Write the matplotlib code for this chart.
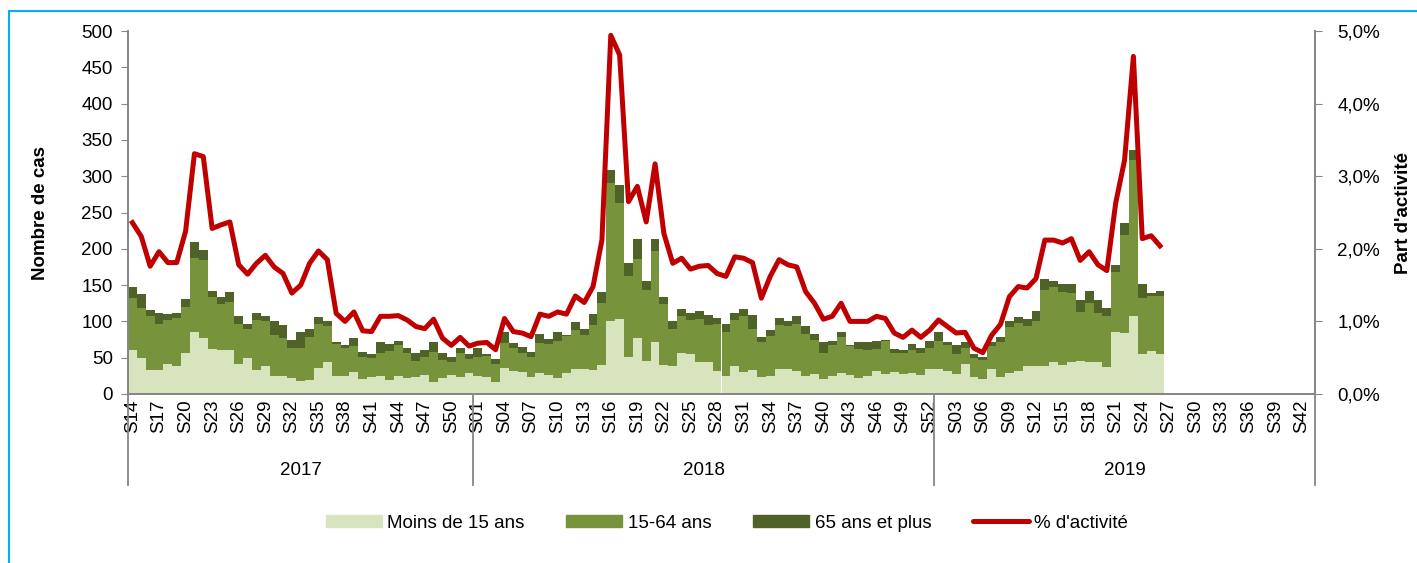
import numpy as np
import matplotlib.pyplot as plt
from matplotlib.lines import Line2D
from matplotlib.patches import Patch
from matplotlib.ticker import FuncFormatter, MultipleLocator

plt.rcParams['font.family'] = ['Liberation Sans', 'DejaVu Sans']
FS = 13.5

# weeks: 2017 S14-S52, 2018 S01-S52, 2019 S01-S43
years = ['2017'] * 39 + ['2018'] * 52 + ['2019'] * 43
weeks = list(range(14, 53)) + list(range(1, 53)) + list(range(1, 44))

# moins de 15 ans (cases)
under15 = [61, 49, 33, 33, 41, 38, 57, 85, 77, 62, 60, 61, 42, 50, 33, 38, 25, 25, 22, 18,
           19, 36, 44, 25, 25, 30, 21, 23, 25, 19, 25, 22, 24, 26, 16, 22, 26, 24, 29,
           25, 23, 17, 36, 31, 30, 23, 29, 26, 22, 29, 35, 34, 33, 40, 101, 103, 51, 77, 46,
           72, 40, 38, 56, 55, 44, 44, 31, 25, 38, 30, 33, 24, 25, 34, 34, 32, 25, 27, 21,
           25, 29, 26, 22, 25, 32, 27, 30, 28, 29, 26, 35,
           34, 31, 28, 41, 24, 21, 34, 24, 29, 32, 38, 38, 38, 44, 40, 44, 46, 44, 44, 37,
           85, 84, 107, 55, 59, 55]
# cumulated up to 15-64 ans
top_1564 = [132, 118, 107, 96, 102, 105, 120, 187, 184, 134, 124, 127, 96, 90, 102, 101, 81, 77, 64, 63,
            78, 97, 93, 69, 63, 66, 51, 49, 57, 59, 67, 57, 46, 51, 58, 47, 44, 56, 48,
            51, 52, 41, 70, 63, 57, 51, 70, 69, 73, 80, 88, 81, 95, 126, 290, 263, 163, 186, 143,
            197, 124, 90, 107, 102, 103, 95, 96, 85, 102, 107, 90, 72, 80, 95, 94, 97, 83, 74, 57,
            67, 79, 66, 62, 61, 62, 73, 56, 57, 61, 56, 64,
            73, 67, 55, 63, 49, 47, 66, 72, 92, 98, 94, 101, 143, 148, 140, 139, 113, 126, 112, 107,
            168, 219, 323, 132, 135, 135]
# total (with 65 ans et plus)
total = [148, 138, 116, 112, 110, 112, 131, 209, 199, 142, 134, 141, 107, 97, 112, 107, 100, 95, 74, 86,
         90, 106, 101, 71, 67, 77, 58, 55, 71, 69, 73, 64, 57, 61, 72, 56, 51, 63, 55,
         63, 55, 48, 85, 70, 65, 58, 83, 76, 85, 81, 99, 90, 110, 141, 309, 288, 181, 213, 156,
         213, 134, 100, 117, 112, 115, 109, 104, 97, 111, 117, 109, 78, 88, 105, 101, 108, 94, 83, 71,
         73, 86, 67, 71, 71, 73, 75, 62, 61, 69, 64, 73,
         85, 72, 67, 71, 55, 51, 72, 79, 101, 106, 103, 115, 158, 156, 152, 152, 129, 142, 129, 119,
         178, 236, 336, 152, 139, 142]
# % d'activité
pct = [2.36, 2.17, 1.76, 1.96, 1.81, 1.81, 2.24, 3.31, 3.27, 2.28, 2.33, 2.37, 1.78, 1.65, 1.80, 1.91,
       1.75, 1.66, 1.39, 1.50, 1.80, 1.97, 1.85, 1.11, 1.00, 1.13, 0.87, 0.86, 1.07, 1.07, 1.08, 1.02,
       0.93, 0.90, 1.03, 0.77, 0.67, 0.78, 0.66,
       0.70, 0.71, 0.61, 1.04, 0.86, 0.84, 0.79, 1.10, 1.07, 1.13, 1.10, 1.35, 1.26, 1.48, 2.12, 4.94,
       4.67, 2.65, 2.86, 2.37, 3.17, 2.21, 1.80, 1.87, 1.72, 1.76, 1.77, 1.66, 1.62, 1.89, 1.87, 1.81,
       1.32, 1.62, 1.85, 1.78, 1.75, 1.41, 1.25, 1.03, 1.07, 1.25, 1.00, 1.00, 1.00, 1.07, 1.04, 0.84,
       0.78, 0.88, 0.78, 0.88,
       1.02, 0.93, 0.84, 0.85, 0.63, 0.57, 0.81, 0.96, 1.34, 1.48, 1.46, 1.59, 2.12, 2.12, 2.08, 2.14,
       1.84, 1.96, 1.78, 1.70, 2.63, 3.22, 4.65, 2.14, 2.18, 2.04]

n = len(weeks)
x = np.arange(n)
m = len(total)
light = np.array(under15, float)
mid = np.array(top_1564, float) - light
dark = np.array(total, float) - np.array(top_1564, float)

c_light = '#d7e4bd'
c_mid = '#77933c'
c_dark = '#4f6228'
c_red = '#c00000'
grey = '#868686'

fig = plt.figure(figsize=(14.17, 5.63), dpi=100)
ax = fig.add_axes([128 / 1417, 1 - 394 / 563, (1315 - 128) / 1417, (394 - 31) / 563])

ax.bar(x[:m], light, width=1.0, color=c_light, linewidth=0)
ax.bar(x[:m], mid, width=1.0, bottom=light, color=c_mid, linewidth=0)
ax.bar(x[:m], dark, width=1.0, bottom=light + mid, color=c_dark, linewidth=0)

ax.set_xlim(-0.5, n - 0.5)
ax.set_ylim(0, 500)
ax.yaxis.set_major_locator(MultipleLocator(50))
ax.set_ylabel('Nombre de cas', fontsize=FS, fontweight='bold')
ax.yaxis.set_label_coords(-79 / 1187, 0.5)

ax.set_xticks(x[::3])
ax.set_xticklabels(['S%02d' % w for w in weeks[::3]], rotation=90, fontsize=FS)
ax.tick_params(axis='x', length=0, pad=4)
ax.tick_params(axis='y', labelsize=FS, length=5, color=grey, pad=6)

ax.spines['top'].set_visible(False)
for s in ['left', 'bottom', 'right']:
    ax.spines[s].set_color(grey)
    ax.spines[s].set_linewidth(1.3)

ax2 = ax.twinx()
ax2.plot(x[:m], np.array(pct) / 100, color=c_red, linewidth=3.6, solid_joinstyle='round')
ax2.set_ylim(0, 0.05)
ax2.yaxis.set_major_locator(MultipleLocator(0.01))
ax2.yaxis.set_major_formatter(FuncFormatter(lambda v, p: ('%.1f%%' % (v * 100)).replace('.', ',')))
ax2.tick_params(axis='y', labelsize=FS, length=5, color=grey, pad=11)
ax2.set_ylabel("Part d'activité", fontsize=FS, fontweight='bold')
ax2.yaxis.set_label_coords(1 + 80 / 1187, 0.5)
ax2.spines['top'].set_visible(False)
for s in ['left', 'bottom', 'right']:
    ax2.spines[s].set_color(grey)
    ax2.spines[s].set_linewidth(1.3)

# year level of the category axis
trans = ax.get_xaxis_transform()
edges = [-0.5]
start = 0
for yr in ['2017', '2018', '2019']:
    cnt = years.count(yr)
    ax.text(start + cnt / 2 - 0.5, -0.21, yr, transform=trans, ha='center', va='center', fontsize=FS)
    start += cnt
    edges.append(start - 0.5)
for e in edges:
    ax.add_line(Line2D([e, e], [0, -0.25], transform=trans, color=grey, linewidth=1.3, clip_on=False))

handles = [Patch(color=c_light), Patch(color=c_mid), Patch(color=c_dark),
           Line2D([], [], color=c_red, linewidth=3.6, solid_capstyle='round')]
labels = ['Moins de 15 ans', '15-64 ans', '65 ans et plus', "% d'activité"]
fig.legend(handles, labels, loc='center', bbox_to_anchor=(0.513, 0.071), ncol=4, frameon=False,
           fontsize=FS, handlelength=3.0, handleheight=0.55, handletextpad=0.3, columnspacing=2.2)

# blue frame
fig.add_artist(Line2D([9 / 1417, 9 / 1417], [0, 1 - 11 / 563], transform=fig.transFigure,
                      color='#00b0f0', linewidth=1.5))
fig.add_artist(Line2D([9 / 1417, 1], [1 - 11 / 563, 1 - 11 / 563], transform=fig.transFigure,
                      color='#00b0f0', linewidth=1.5))

fig.savefig('out.png', dpi=100)
